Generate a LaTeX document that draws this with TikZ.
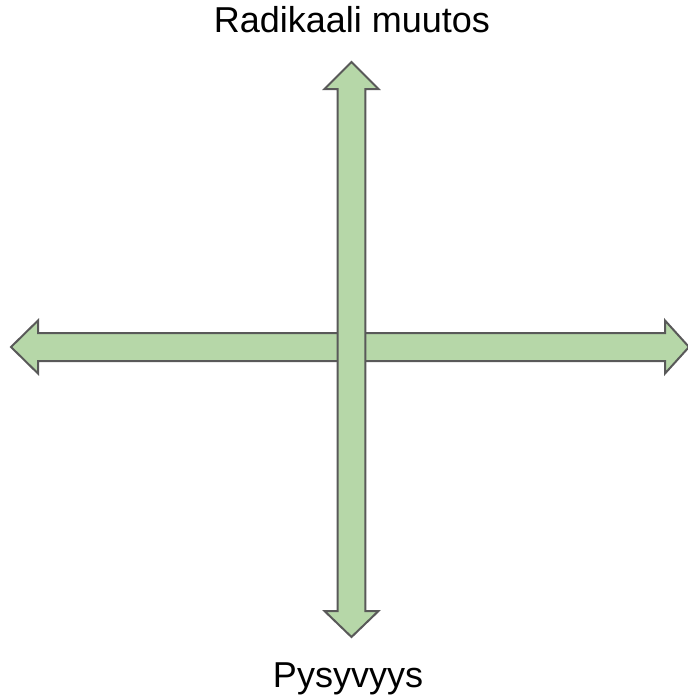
\documentclass[tikz,border=0pt]{standalone}
\usepackage{fontspec}
\setmainfont{Liberation Sans}
\definecolor{arrowfill}{HTML}{B6D7A8}
\definecolor{arrowline}{HTML}{595959}
\tikzset{
  axisarrow/.style={fill=arrowfill, draw=arrowline, line width=2pt, line join=miter},
  axislabel/.style={font=\fontsize{36}{40}\selectfont, text=black, inner sep=0pt, anchor=base}
}
\begin{document}
\begin{tikzpicture}[x=1pt, y=-1pt]
\useasboundingbox (0,0) rectangle (688,699);
% horizontal double arrow
\draw[axisarrow] (11,347) -- (38,320.5) -- (38,333) -- (665,333) -- (665,320.5) -- (689,347)
  -- (665,373.5) -- (665,361) -- (38,361) -- (38,373.5) -- cycle;
% vertical double arrow
\draw[axisarrow] (351.5,62) -- (378.5,89) -- (365.3,89) -- (365.3,611) -- (378.5,611) -- (351.5,637)
  -- (324.5,611) -- (337.7,611) -- (337.7,89) -- (324.5,89) -- cycle;
\node[axislabel] (top) at (352,32) {Radikaali muutos};
\node[axislabel] (bottom) at (348,687) {Pysyvyys};
\end{tikzpicture}
\end{document}
